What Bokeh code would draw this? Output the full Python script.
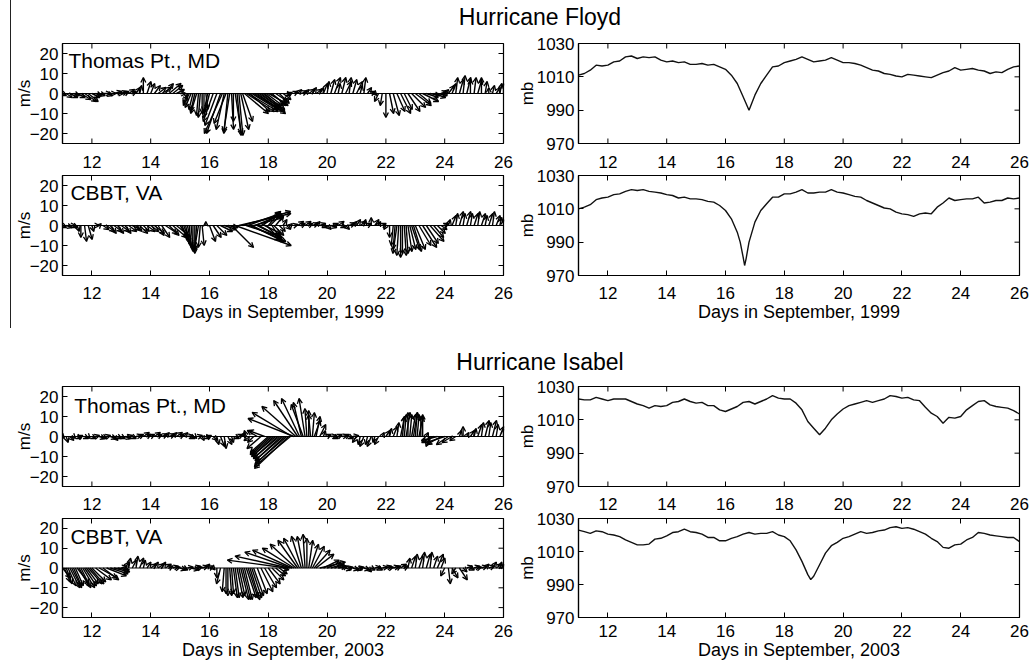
from bokeh.plotting import figure
from bokeh.models import (ColumnDataSource, Arrow, OpenHead, LinearAxis, Range1d,
                          FixedTicker, Div, Label, Spacer, Span)
from bokeh.layouts import column, row
from bokeh.embed import file_html
from bokeh.resources import INLINE

FONT = "Liberation Sans"

# ---------------- tick labels ----------------
day_ticks = [12, 14, 16, 18, 20, 22, 24, 26]
wind_ticks = [-20, -10, 0, 10, 20]
pres_ticks = [970, 990, 1010, 1030]

# ---------------- wind sticks (3-hourly, m/s) ----------------
wind_t = [11 + 0.125 * i for i in range(121)]

floyd_thomas_u = [
    2, 3, 4, 3, 4, 5, 6, 5,
    4, 3, 3, 4, 3, 3, 4, 3,
    3, 2, 3, 2, 2, 1, 0, 2,
    2, 3, 4, 5, 4, 6, 5, 4,
    3, 2, -2, -3, -2, -1, 0, 1,
    -3, -5, -6, -7, -4, -2, 1, 3,
    2, 5, 14, 10, 16, 11, 12, 8,
    9, 7, 6, 5, 4, 2, 1, 2,
    2, 3, 2, 3, 2, 3, 2, 2,
    1, 2, 3, 1, 2, 3, 1, 2,
    3, 1, 1, 2, 2, 1, -2, -1,
    0, 2, 3, 4, 5, 4, 6, 7,
    8, 6, 8, 6, 5, 6, 5, 3,
    2, 3, 2, 1, 2, 1, 2, 0,
    1, 2, 0, 1, 0, 1, 2, 1,
    0]
floyd_thomas_v = [
    -1, -2, -2, -1, -2, -3, -4, -4,
    -2, -1, -1, 0, -1, 0, 1, 0,
    1, 1, 2, 1, 3, 4, 8, 6,
    5, 4, 3, 3, 5, 5, 4, 2,
    0, -3, -5, -7, -9, -11, -10, -8,
    -12, -14, -16, -20, -18, -20, -18, -20,
    -21, -14, -9, -9, -10, -8, -9, -7,
    -5, -6, -4, -5, -3, -1, 0.5, 1,
    2, 1, 2, 2, 3, 2, 3, 5,
    6, 7, 8, 5, 8, 6, 8, 7,
    6, 4, 8, 3, 1, -1, -4, -6,
    -12, -10, -11, -9, -10, -8, -9, -7,
    -6, -5, -4, -2, -1, -2, -1, 1,
    2, 4, 5, 8, 7, 9, 8, 7,
    8, 7, 8, 6, 3, 4, 3, 5,
    5]
floyd_thomas_extra_t = [15.3125, 15.4375, 15.5625, 15.6875, 15.8125, 15.9375,
                        16.4375, 16.5625, 16.6875, 16.8125, 16.9375, 17.0625, 17.1875, 17.3125,
                        17.4375, 17.5625, 17.6875, 17.8125, 17.9375, 18.0625]
floyd_thomas_extra_u = [-3, -2, -3, -1, 0, -2,
                        -9, -6, -3, 0, 2, 4, 12, 15,
                        13, 14, 10, 11, 8, 9]
floyd_thomas_extra_v = [-6, -8, -10, -12, -9, -10,
                        -20, -15, -19, -14, -21, -18, -10, -9,
                        -8, -9, -7, -8, -6, -6]

floyd_cbbt_u = [
    2, 3, 3, 2, 1, 0, 1, 2,
    1, 2, 1, 3, 4, 3, 4, 3,
    4, 3, 4, 4, 3, 4, 3, 4,
    4, 5, 3, 4, 6, 5, 7, 6,
    4, 3, 2, 1, 0, -2, 1, 0,
    3, 4, 5, 6, 6, 5, 11, 28,
    26, 24, 18, 18, 15, 12, 10, 8,
    6, 5, 4, 3, 2, 2, 1, 2,
    3, 2, 3, 2, 3, 2, 3, 2,
    2, 3, 2, 3, 2, 2, 3, 2,
    2, 3, 1, 2, 0, 2, 1, 2,
    -1, 0, -1, -2, 0, 1, 2, 4,
    5, 6, 7, 6, 7, 5, 4, 3,
    2, 1, 2, 1, 2, 1, 2, 1,
    2, 1, 2, 1, 2, 1, 2, 1,
    0]
floyd_cbbt_v = [
    -1, -1, 0, -1, -3, -6, -8, -7,
    -3, 0, 1, -2, -3, -4, -3, -4,
    -3, -4, -3, -2, -3, -4, -3, -3,
    -3, -4, -5, -6, -4, -5, -6, -5,
    -6, -8, -10, -12, -14, -12, -10, 2,
    -8, -6, -5, -3, -2, -1, -11, -10,
    6, 7, -6, -8, 4, -6, 6, -4,
    7, -8, 5, -3, 3, -2, 1, 0.5,
    2, 1, 2, 1, 1, 2, 1, -1,
    -2, -1, 1, 2, -1, -2, 1, 2,
    3, 2, 3, 1, 4, 3, 2, 1,
    -2, -6, -10, -14, -16, -15, -13, -12,
    -12, -10, -11, -9, -8, -6, -4, -2,
    1, 3, 5, 6, 7, 6, 7, 6,
    6, 7, 6, 5, 6, 7, 5, 4,
    3]
floyd_cbbt_extra_t = [15.0625, 15.1875, 15.3125, 15.4375, 15.5625, 15.6875,
                      17.3125, 17.4375, 17.5625, 17.6875, 17.8125, 17.9375, 18.0625, 18.1875,
                      22.3125, 22.4375, 22.5625, 22.6875, 22.8125, 22.9375]
floyd_cbbt_extra_u = [3, 2, 1, 0, -1, -1,
                      16, 14, 12, 11, 9, 8, 6, 5,
                      -1, -1, 0, 1, 3, 4]
floyd_cbbt_extra_v = [-7, -9, -11, -13, -13, -11,
                      6, -7, 5, -6, 7, -8, 6, -5,
                      -12, -15, -14, -14, -12, -13]

isabel_thomas_u = [
    1, 1, 2, 1, 2, 1, 2, 1,
    2, 2, 3, 2, 2, 3, 2, 2,
    2, 3, 2, 2, 3, 2, 3, 2,
    2, 3, 2, 3, 2, 3, 2, 3,
    2, 2, 3, 2, 1, 2, 1, 2,
    1, 2, 1, 2, 1, 2, 1, 2,
    2, 1, -1, -3, -3, -5, -7, -8,
    -9, -10, -12, -13, -14, -15, -18, -23,
    -12, -4, -3, 0, 1, 2, 3, 1,
    2, 3, 2, 2, 3, 2, 2, 3,
    -2, -1, -2, -1, -2, -1, -2, 1,
    2, 1, 2, 1, 2, 1, 0, 2,
    1, 2, 0, 1, -2, -6, -8, -7,
    -9, -6, -5, -3, 1, 0, 1, 2,
    1, 2, 1, 2, 1, 2, 1, 2,
    0]
isabel_thomas_v = [
    -1, -3, -2, -1, -1, 0.5, -1, -1,
    -1, 0.5, -1, -1, 0.5, -1, -2, -1,
    -1, -1, 0.5, -1, 0.5, 1, 2, 1,
    1, 2, 1, 1, 2, 1, 2, 2,
    1, 2, 0.5, -1, -1, 0.5, -2, -1,
    0.5, -2, -4, -5, -6, -4, -3, -1,
    1, 2, 3, -2, -3, 3, -6, 3,
    -8, -9, -10, -11, -12, -13, -15, 9,
    18, 17, 19, 13, 12, 10, 6, 3,
    1, 0.5, -1, 1, 0.5, 1, -1, 0.5,
    -3, -4, -5, -4, -5, -3, -4, 2,
    3, 4, 5, 7, 10, 11, 12, 11,
    12, 10, 11, 2, -5, -3, -2, -4,
    -3, -4, -3, -2, 3, 5, 2, 3,
    4, 6, 7, 8, 7, 8, 6, 5,
    4]
isabel_thomas_extra_t = [18.8125, 18.9375, 19.0625, 19.1875, 19.3125, 19.4375, 19.5625,
                         18.0625, 18.1875, 18.3125, 18.4375, 18.5625, 18.6875,
                         22.5625, 22.6875, 22.8125, 22.9375, 23.0625, 23.1875]
isabel_thomas_extra_u = [-20, -17, -9, -6, -1, -1, 3,
                         -10, -11, -12, -13, -15, -17,
                         1, 2, 1, 2, 1, 0]
isabel_thomas_extra_v = [12, 15, 19, 16, 14, 11, 8,
                         -9, -10, -11, -12, -14, -16,
                         10, 12, 11, 12, 11, 10]

isabel_cbbt_u = [
    4, 3, 5, 4, 6, 5, 6, 7,
    7, 8, 9, 8, 10, 9, 8, 6,
    3, 2, 1, 2, 1, 2, 1, 2,
    3, 2, 3, 2, 3, 2, 3, 2,
    3, 2, 3, 4, 3, 2, 3, 2,
    2, 1, 0, -2, -1, 0, 1, 2,
    3, 4, 5, 5, 5, 5, 6, 6,
    6, 6, 5, 4, 3, -30, -23, -16,
    -10, -5, -1, 2, 6, 9, 13, 8,
    7, 6, 5, 4, 3, 3, 2, 3,
    3, 2, 3, 2, 2, 3, 2, 3,
    3, 2, 3, 2, 3, 2, 1, 2,
    1, 2, 1, 2, 1, 2, 3, 2,
    -2, 1, 3, -2, 4, 2, 3, 2,
    3, 2, 3, 2, 3, 2, 3, 1,
    0]
isabel_cbbt_v = [
    -5, -8, -10, -9, -8, -10, -9, -8,
    -7, -6, -5, -6, -4, -3, -2, -1,
    1, 3, 5, 4, 6, 5, 4, 3,
    2, 3, 2, 3, 2, 1, 1, 0.5,
    -1, -1, 0.5, -1, 1, 0.5, 1, 2,
    1, -1, -5, -8, -12, -14, -13, -15,
    -14, -16, -15, -16, -14, -13, -12, -10,
    -8, -6, -4, -3, -1, 4, 8, 10,
    14, 16, 17, 14, 11, 7, 3, 4,
    3, 2, 2, 1, 1, -1, 0.5, -1,
    -1, 0.5, -1, -2, -1, 0.5, -1, 0.5,
    1, 0.5, 1, 1, 2, 1, 5, 6,
    7, 6, 8, 7, 8, 6, 7, 5,
    -4, -8, -5, -3, -6, -2, 1, -1,
    1, 0.5, 1, 2, 1, 3, 2, 3,
    2]
isabel_cbbt_extra_t = [18.6875, 18.8125, 18.9375, 19.0625, 19.1875, 19.3125, 19.4375, 19.5625,
                       11.0625, 11.1875, 11.3125, 11.4375, 11.5625, 11.6875, 11.8125, 11.9375,
                       16.5625, 16.6875, 16.8125, 16.9375, 17.0625, 17.1875, 17.3125, 17.4375]
isabel_cbbt_extra_u = [-27, -20, -13, -8, -3, 0, 4, 8,
                       3, 4, 5, 4, 5, 6, 6, 7,
                       0, 1, 2, 3, 4, 4, 5, 5]
isabel_cbbt_extra_v = [6, 9, 12, 15, 16, 15, 12, 9,
                       -7, -9, -10, -9, -9, -10, -8, -8,
                       -13, -14, -15, -15, -16, -16, -15, -15]

# ---------------- sea-level pressure (mb) ----------------
pres_t = [round(11 + 0.2 * i, 1) for i in range(76)]

floyd_thomas_p = [
    1011, 1012, 1014, 1017, 1016.5,
    1017, 1019, 1019.5, 1022, 1022.5,
    1021, 1022, 1021.5, 1022, 1020,
    1019, 1019.5, 1018.5, 1019, 1017.5,
    1017.5, 1018, 1017, 1017.5, 1016,
    1014.5, 1011, 1006, 998, 990,
    999, 1006, 1011, 1016, 1016.5,
    1018.5, 1019.5, 1020.5, 1022, 1020.5,
    1019, 1019.5, 1020, 1021.5, 1020,
    1018.5, 1018.5, 1018, 1017, 1015.5,
    1014, 1013.5, 1012, 1011.5, 1010.5,
    1010, 1011.5, 1011, 1010.5, 1010,
    1009.5, 1011, 1012.5, 1013.5, 1015.5,
    1014, 1014.5, 1015, 1014, 1013.5,
    1012, 1013, 1012.5, 1014.5, 1016,
    1016.5]

floyd_cbbt_t = [
    11.0, 11.2, 11.4, 11.6, 11.8, 12.0, 12.2, 12.4, 12.6, 12.8,
    13.0, 13.2, 13.4, 13.6, 13.8, 14.0, 14.2, 14.4, 14.6, 14.8,
    15.0, 15.2, 15.4, 15.6, 15.8, 16.0, 16.2, 16.4, 16.5, 16.6, 16.65, 16.7, 16.8,
    17.0, 17.2, 17.4, 17.6, 17.8, 18.0, 18.2, 18.4, 18.6, 18.8,
    19.0, 19.2, 19.4, 19.6, 19.8, 20.0, 20.2, 20.4, 20.6, 20.8,
    21.0, 21.2, 21.4, 21.6, 21.8, 22.0, 22.2, 22.4, 22.6, 22.8,
    23.0, 23.2, 23.4, 23.6, 23.8, 24.0, 24.2, 24.4, 24.6, 24.8,
    25.0, 25.2, 25.4, 25.6, 25.8, 26.0]
floyd_cbbt_p = [
    1010, 1011, 1012.5, 1015.5, 1016.5, 1017, 1018.5, 1019, 1020.5, 1021.5,
    1021, 1021.5, 1020.5, 1020, 1019.5, 1018.5, 1018, 1016.5, 1017, 1016,
    1016, 1015.5, 1014.5, 1014, 1012, 1009, 1004, 996, 990, 981, 976, 980, 990,
    1002, 1009, 1013, 1017, 1017, 1019, 1019, 1020, 1021.5, 1019.5,
    1019.5, 1020, 1020, 1021.5, 1020, 1019.5, 1018.5, 1017.5, 1017, 1015,
    1013.5, 1012, 1010.5, 1010, 1008, 1007, 1006.5, 1005.5, 1007, 1007.5,
    1007, 1011, 1013.5, 1016.5, 1015, 1015.5, 1016, 1016, 1017, 1013.5,
    1014, 1015, 1015, 1016.5, 1016, 1016.5]

isabel_thomas_p = [
    1022.5, 1022, 1022, 1023.5, 1022.5,
    1021.5, 1022.5, 1022.5, 1022.5, 1021,
    1019.5, 1018.5, 1017, 1018.5, 1018,
    1018.5, 1020.5, 1021, 1022.5, 1021,
    1020, 1020.5, 1018.5, 1018.5, 1016,
    1015, 1016.5, 1018, 1020.5, 1021,
    1019.5, 1021, 1022.5, 1024.5, 1023,
    1022.5, 1022.5, 1020, 1016, 1009,
    1005, 1001, 1005, 1010, 1013.5,
    1016.5, 1018.5, 1019.5, 1020.5, 1021.5,
    1020.5, 1021.5, 1022.5, 1024.5, 1024,
    1023, 1023.5, 1022, 1021.5, 1017.5,
    1014, 1012, 1008, 1011.5, 1011,
    1012, 1016, 1018.5, 1021, 1021.5,
    1019, 1018, 1017.5, 1017, 1015.5,
    1013.5]

isabel_cbbt_t = [
    11.0, 11.2, 11.4, 11.6, 11.8, 12.0, 12.2, 12.4, 12.6, 12.8,
    13.0, 13.2, 13.4, 13.6, 13.8, 14.0, 14.2, 14.4, 14.6, 14.8,
    15.0, 15.2, 15.4, 15.6, 15.8, 16.0, 16.2, 16.4, 16.6, 16.8,
    17.0, 17.2, 17.4, 17.6, 17.8, 18.0, 18.2, 18.4, 18.6, 18.8, 18.9,
    19.0, 19.2, 19.4, 19.6, 19.8, 20.0, 20.2, 20.4, 20.6, 20.8,
    21.0, 21.2, 21.4, 21.6, 21.8, 22.0, 22.2, 22.4, 22.6, 22.8,
    23.0, 23.2, 23.4, 23.6, 23.8, 24.0, 24.2, 24.4, 24.6, 24.8,
    25.0, 25.2, 25.4, 25.6, 25.8, 26.0]
isabel_cbbt_p = [
    1023, 1022, 1021, 1022.5, 1022, 1020.5, 1020, 1019, 1017, 1015.5,
    1014, 1014, 1014.5, 1017.5, 1018, 1019.5, 1021.5, 1022, 1023.5, 1022,
    1021.5, 1020.5, 1018.5, 1018.5, 1016.5, 1016.5, 1018, 1019, 1020.5, 1021.5,
    1020.5, 1021, 1021, 1022, 1020, 1019, 1016.5, 1011, 1004, 996, 993,
    995, 1002, 1009, 1013.5, 1015.5, 1018, 1019, 1020.5, 1022, 1021,
    1021.5, 1022.5, 1023, 1024.5, 1025, 1024, 1024.5, 1023.5, 1022, 1020.5,
    1018, 1016, 1012.5, 1012, 1014, 1014.5, 1017, 1018.5, 1021.5, 1021,
    1020, 1019.5, 1019, 1018.5, 1018.5, 1016]

# ---------------- layout geometry (px) ----------------
LEFT = dict(w=503, bl=51, br=11, ylab_stand=-7)
RIGHT = dict(w=518, bl=64, br=13, ylab_stand=-3)
# upper rows carry no x labels; the row below draws them on its top axis and is
# pulled up a few px (transparent border) so the labels sit midway between panels
ROWS = {
    1: dict(h=123, bt=13, bb=10, upper=True),
    2: dict(h=183, bt=28, bb=55, upper=False, top_stand=8, bot_stand=11, pull=6),
    3: dict(h=124, bt=14, bb=10, upper=True),
    4: dict(h=176, bt=29, bb=48, upper=False, top_stand=9, bot_stand=7, pull=7),
}


def base_fig(col, g, yr):
    p = figure(width=col["w"], height=g["h"], x_range=Range1d(11, 26), y_range=Range1d(*yr),
               x_axis_type=None, y_axis_type=None, output_backend="svg",
               toolbar_location=None,
               min_border_left=col["bl"], min_border_right=col["br"],
               min_border_top=g["bt"], min_border_bottom=g["bb"])
    p.outline_line_color = "black"
    p.outline_line_width = 1.2
    p.outline_line_alpha = 1.0
    p.background_fill_color = "white"
    p.border_fill_color = None
    return p


def make_axis(ticks, stand, label=None, label_stand=1, label_size="17px"):
    ax = LinearAxis(ticker=FixedTicker(ticks=ticks))
    ax.major_tick_in = 5
    ax.major_tick_out = 0
    ax.minor_tick_in = 0
    ax.minor_tick_out = 0
    ax.axis_line_color = "black"
    ax.axis_line_width = 1.2
    ax.major_tick_line_color = "black"
    ax.major_tick_line_width = 1
    ax.major_label_text_font = FONT
    ax.major_label_text_font_size = "17px"
    ax.major_label_text_color = "black"
    ax.major_label_standoff = stand
    if label:
        ax.axis_label = label
        ax.axis_label_text_font = FONT
        ax.axis_label_text_font_size = label_size
        ax.axis_label_text_font_style = "normal"
        ax.axis_label_text_color = "black"
        ax.axis_label_standoff = label_stand
    return ax


def decorate(p, col, g, yr, yticks, ylabel, xlabel):
    fw = col["w"] - col["bl"] - col["br"]
    fh = g["h"] - g["bt"] - g["bb"]
    p.add_layout(make_axis(yticks, 4, ylabel, col["ylab_stand"]), "left")
    # inward tick marks (5 px) on the sides that carry no labels
    dx = 5 * 15.0 / fw
    dy = 5 * (yr[1] - yr[0]) / fh
    x0, y0, x1, y1 = [], [], [], []
    for t in yticks:
        x0.append(26); x1.append(26 - dx); y0.append(t); y1.append(t)
    if g["upper"]:
        for t in day_ticks:
            x0 += [t, t]; x1 += [t, t]
            y0 += [yr[0], yr[1]]; y1 += [yr[0] + dy, yr[1] - dy]
    else:
        p.add_layout(make_axis(day_ticks, g["bot_stand"], xlabel, 0, "18px"), "below")
        p.add_layout(make_axis(day_ticks, g["top_stand"]), "above")
    p.segment(x0=x0, y0=y0, x1=x1, y1=y1, line_color="black", line_width=1)
    return fw, fh


def wind_fig(r, u, v, et, eu, ev, station, sdx, sy, xlabel):
    g = ROWS[r]
    yr = (-25, 25)
    p = base_fig(LEFT, g, yr)
    fw, fh = decorate(p, LEFT, g, yr, wind_ticks, "m/s", xlabel)
    k = (fh / 50.0) / (fw / 15.0)  # days per m/s so that stick angles are true on screen
    t = list(wind_t) + list(et)
    uu = list(u) + list(eu)
    vv = list(v) + list(ev)
    src = ColumnDataSource(dict(
        x0=t, y0=[0.0] * len(t),
        x1=[ti + ui * k for ti, ui in zip(t, uu)], y1=vv))
    p.add_layout(Span(location=0, dimension="width", line_color="black", line_width=1.2))
    p.add_layout(Arrow(source=src, x_start="x0", y_start="y0", x_end="x1", y_end="y1",
                       line_color="black", line_width=1.4,
                       end=OpenHead(size=5, line_color="black", line_width=1.3)))
    p.add_layout(Label(x=11 + sdx, y=sy, text=station, text_font=FONT,
                       text_font_size="21px", text_color="black", text_baseline="middle"))
    return p


def pres_fig(r, t, pv, xlabel):
    g = ROWS[r]
    yr = (970, 1030)
    p = base_fig(RIGHT, g, yr)
    decorate(p, RIGHT, g, yr, pres_ticks, "mb", xlabel)
    p.line(t, pv, line_color="#111111", line_width=1.4)
    return p


def title_div(text, height, pad_top):
    html = ('<div style="box-sizing:border-box;width:1021px;padding-left:37px;'
            'padding-top:%dpx;text-align:center;font-family:\'Liberation Sans\',Arial,sans-serif;'
            'font-size:23px;line-height:23px;color:#000;white-space:nowrap;">%s</div>'
            % (pad_top, text))
    return Div(text=html, width=1021, height=height, margin=0)


f1 = wind_fig(1, floyd_thomas_u, floyd_thomas_v, floyd_thomas_extra_t, floyd_thomas_extra_u,
              floyd_thomas_extra_v, "Thomas Pt., MD", 0.2, 16.5, None)
f2 = wind_fig(2, floyd_cbbt_u, floyd_cbbt_v, floyd_cbbt_extra_t, floyd_cbbt_extra_u,
              floyd_cbbt_extra_v, "CBBT, VA", 0.27, 16.5, "Days in September, 1999")
f3 = pres_fig(1, pres_t, floyd_thomas_p, None)
f4 = pres_fig(2, floyd_cbbt_t, floyd_cbbt_p, "Days in September, 1999")

f5 = wind_fig(3, isabel_thomas_u, isabel_thomas_v, isabel_thomas_extra_t, isabel_thomas_extra_u,
              isabel_thomas_extra_v, "Thomas Pt., MD", 0.4, 15.5, None)
f6 = wind_fig(4, isabel_cbbt_u, isabel_cbbt_v, isabel_cbbt_extra_t, isabel_cbbt_extra_u,
              isabel_cbbt_extra_v, "CBBT, VA", 0.27, 16.0, "Days in September, 2003")
f7 = pres_fig(3, pres_t, isabel_thomas_p, None)
f8 = pres_fig(4, isabel_cbbt_t, isabel_cbbt_p, "Days in September, 2003")

t1 = title_div("Hurricane Floyd", 30, 6)
t2 = title_div("Hurricane Isabel", 42, 21)

vline = Div(text="", width=1, height=328, margin=0, styles={"background-color": "#222222"})

row2 = row(f2, f4, margin=(-ROWS[2]["pull"], 0, 0, 0))
row4 = row(f6, f8, margin=(-ROWS[4]["pull"], 0, 0, 0))

top = row(Spacer(width=10, height=330, margin=0), vline,
          column(t1, row(f1, f3), row2))
bottom = row(Spacer(width=11, height=335, margin=0),
             column(t2, row(f5, f7), row4))
layout = column(top, bottom)

open("out.html", "w").write(file_html(layout, INLINE))
